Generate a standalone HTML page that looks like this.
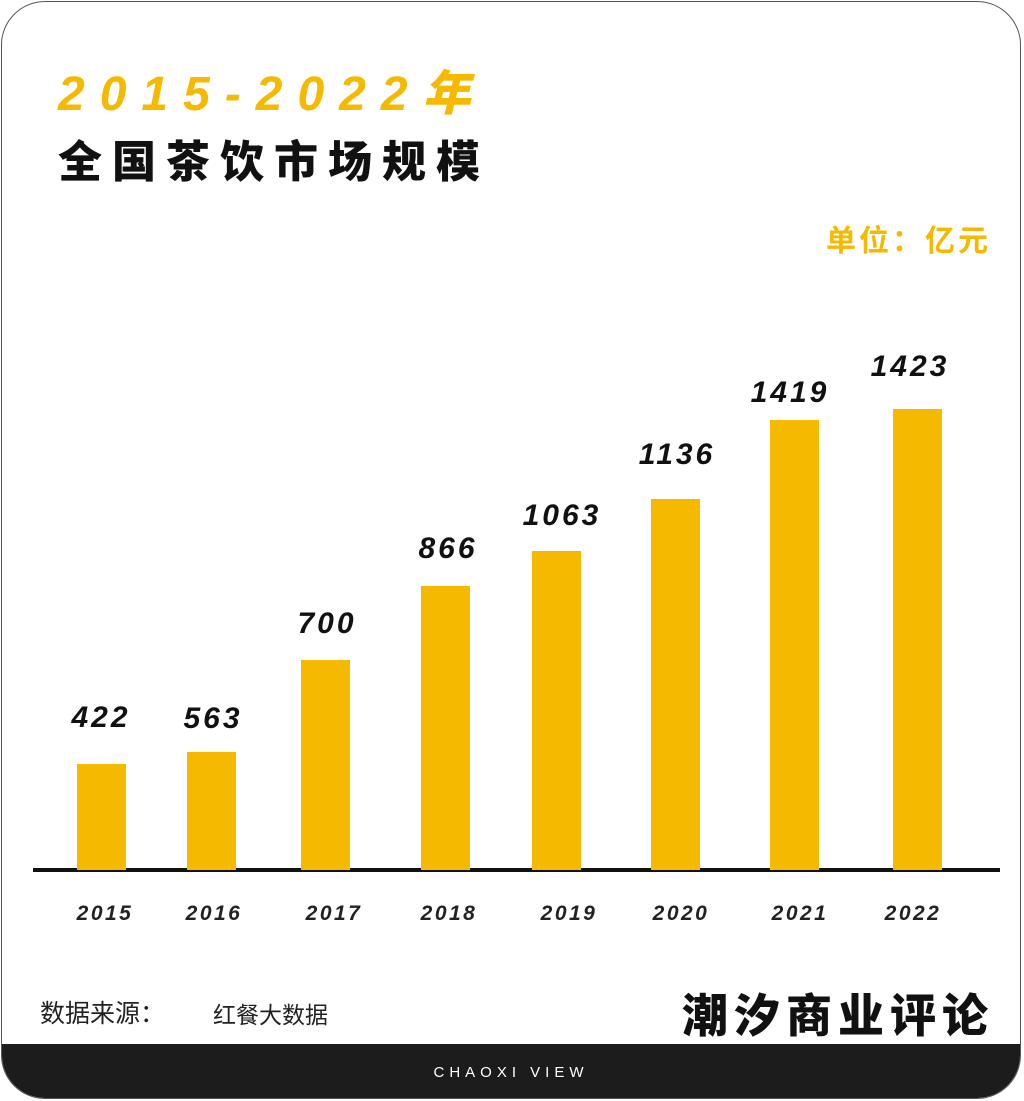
<!DOCTYPE html>
<html><head><meta charset="utf-8"><style>
body{margin:0;width:1024px;height:1101px;background:#fff;overflow:hidden;font-family:"Liberation Sans","Noto Sans CJK SC",sans-serif;}
.card{position:absolute;left:1px;top:1px;width:1020px;height:1098px;border:1.5px solid #555;border-radius:44px;overflow:hidden;background:#fff;box-sizing:border-box;}
.band{position:absolute;left:0;right:0;top:1042px;bottom:0;background:#1c1c1c;}
.band span{position:absolute;left:0;right:0;top:20px;text-align:center;color:#fff;font-size:15px;letter-spacing:5px;}
.t{position:absolute;white-space:nowrap;}
.bar{position:absolute;width:49px;background:#f5b900;bottom:231px;}
.v{position:absolute;width:140px;text-align:center;font-weight:900;font-style:italic;font-size:30px;letter-spacing:3px;color:#111;}
.y{position:absolute;width:140px;text-align:center;font-weight:bold;font-style:italic;font-size:21px;letter-spacing:2.5px;color:#222;top:902px;}
</style></head><body>
<div class="card"><div class="band"><span>CHAOXI VIEW</span></div></div>
<div class="t" style="left:58px;top:54px;font-size:48px;font-weight:900;font-style:italic;color:#f5b900;letter-spacing:15px;">2015-2022年</div>
<div class="t" style="left:58px;top:126px;font-size:44px;font-weight:900;color:#111;letter-spacing:10px;font-family:'Noto Sans CJK SC',sans-serif;">全国茶饮市场规模</div>
<div class="t" style="left:826px;top:216px;font-size:30px;font-weight:bold;color:#f5b900;letter-spacing:3px;font-family:'Noto Sans CJK SC',sans-serif;">单位：亿元</div>
<div style="position:absolute;left:33px;width:967px;top:868px;height:4px;background:#111"></div>
<div class="bar" style="left:77px;top:764px"></div>
<div class="bar" style="left:187px;top:752px"></div>
<div class="bar" style="left:301px;top:660px"></div>
<div class="bar" style="left:421px;top:586px"></div>
<div class="bar" style="left:532px;top:551px"></div>
<div class="bar" style="left:651px;top:499px"></div>
<div class="bar" style="left:770px;top:420px"></div>
<div class="bar" style="left:893px;top:409px"></div>
<div class="v" style="left:31px;top:701px">422</div>
<div class="v" style="left:143px;top:702px">563</div>
<div class="v" style="left:257px;top:607px">700</div>
<div class="v" style="left:378px;top:532px">866</div>
<div class="v" style="left:492px;top:499px">1063</div>
<div class="v" style="left:607px;top:438px">1136</div>
<div class="v" style="left:720px;top:376px">1419</div>
<div class="v" style="left:840px;top:350px">1423</div>
<div class="y" style="left:35px">2015</div>
<div class="y" style="left:144px">2016</div>
<div class="y" style="left:264px">2017</div>
<div class="y" style="left:379px">2018</div>
<div class="y" style="left:499px">2019</div>
<div class="y" style="left:611px">2020</div>
<div class="y" style="left:730px">2021</div>
<div class="y" style="left:843px">2022</div>
<div class="t" style="left:40px;top:994px;font-size:25px;color:#222;font-family:'Noto Sans CJK SC',sans-serif;">数据来源：</div>
<div class="t" style="left:213px;top:996px;font-size:23px;color:#222;font-family:'Noto Sans CJK SC',sans-serif;">红餐大数据</div>
<div class="t" style="left:682px;top:980px;font-size:46px;font-weight:900;color:#111;letter-spacing:6px;font-family:'Noto Sans CJK SC',sans-serif;">潮汐商业评论</div>
</body></html>
